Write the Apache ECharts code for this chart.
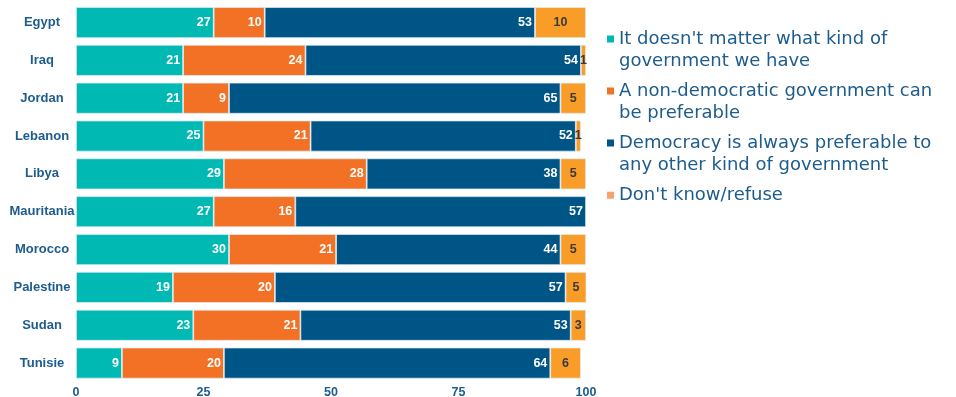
<!DOCTYPE html>
<html>
<head>
<meta charset="utf-8">
<script src="https://cdn.jsdelivr.net/npm/echarts@6/dist/echarts.min.js"></script>
<style>
  html, body { margin: 0; padding: 0; background: #ffffff; }
  #chart { width: 956px; height: 397px; }
</style>
</head>
<body>
<div id="chart"></div>
<script>
// Survey: attitudes toward democracy, by country (percent of respondents)
const countries = ['Egypt', 'Iraq', 'Jordan', 'Lebanon', 'Libya', 'Mauritania', 'Morocco', 'Palestine', 'Sudan', 'Tunisie'];
const noMatter     = [27, 21, 21, 25, 29, 27, 30, 19, 23, 9];
const nonDemocracy = [10, 24, 9, 21, 28, 16, 21, 20, 21, 20];
const democracy    = [53, 54, 65, 52, 38, 57, 44, 57, 53, 64];
const dontKnow     = [10, 1, 5, 1, 5, 0.4, 5, 5, 3, 6];
const dontKnowLabels = ['10', '1', '5', '1', '5', '', '5', '5', '3', '6'];
const seriesNames = [
  "It doesn't matter what kind of\ngovernment we have",
  'A non-democratic government can\nbe preferable',
  'Democracy is always preferable to\nany other kind of government',
  "Don't know/refuse"
];
const xTicks = [0, 25, 50, 75, 100];

const textBlue = '#1d5c8d';
const colors = ['#00b9b3', '#f37124', '#005587', '#f99d28'];
const legendColors = ['#00b9b3', '#f37124', '#005587', '#f7a26e'];

// Legend icons: a small square placed at the top of a tall box for two-line
// entries (so it lines up with the first line), and a plain square otherwise
const topSquare = 'path://M0,0L7,0L7,7L0,7Z M0,30L0.01,30';
const plainSquare = 'path://M0,0L7,0L7,7L0,7Z';

const chart = echarts.init(document.getElementById('chart'), null, { renderer: 'canvas' });

const baseItem = {
  borderColor: 'rgba(225,238,245,0.9)',
  borderWidth: 0.8
};

function mkSeries(i, data, label) {
  return {
    name: seriesNames[i],
    type: 'bar',
    stack: 'total',
    barCategoryGap: '18%',
    data: data,
    clip: true,
    itemStyle: Object.assign({ color: colors[i] }, baseItem),
    label: label,
    emphasis: { disabled: true }
  };
}

const whiteLabel = {
  show: true,
  position: 'insideRight',
  distance: 3,
  color: '#ffffff',
  fontFamily: 'Liberation Sans, Arial, sans-serif',
  fontWeight: 'bold',
  fontSize: 12.5
};

chart.setOption({
  animation: false,
  grid: { left: 76, right: 370, top: 3.6, bottom: 15, outerBoundsMode: 'none', containLabel: false },
  xAxis: {
    type: 'value',
    min: 0,
    max: 100,
    interval: 25,
    axisLine: { show: false },
    axisTick: { show: false },
    splitLine: { show: false },
    axisLabel: {
      margin: 4,
      color: textBlue,
      fontFamily: 'Liberation Sans, Arial, sans-serif',
      fontWeight: 'bold',
      fontSize: 12.5,
      formatter: v => xTicks.includes(v) ? String(v) : ''
    }
  },
  yAxis: {
    type: 'category',
    inverse: true,
    data: countries,
    axisLine: { show: false },
    axisTick: { show: false },
    axisLabel: {
      margin: 34,
      align: 'center',
      color: textBlue,
      fontFamily: 'Liberation Sans, Arial, sans-serif',
      fontWeight: 'bold',
      fontSize: 13
    }
  },
  legend: {
    orient: 'vertical',
    left: 607,
    top: 28,
    padding: 0,
    itemWidth: 7,
    itemHeight: 30,
    itemGap: 7,
    selectedMode: false,
    textStyle: {
      color: textBlue,
      fontFamily: 'DejaVu Sans, sans-serif',
      fontSize: 18,
      lineHeight: 22.5
    },
    data: seriesNames.map((n, i) => ({
      name: n,
      icon: i < 3 ? topSquare : plainSquare,
      itemStyle: { color: legendColors[i], borderWidth: 0 }
    }))
  },
  series: [
    mkSeries(0, noMatter, whiteLabel),
    mkSeries(1, nonDemocracy, whiteLabel),
    mkSeries(2, democracy, whiteLabel),
    mkSeries(3, dontKnow, {
      show: true,
      position: 'inside',
      color: '#3a3a3a',
      fontFamily: 'Liberation Sans, Arial, sans-serif',
      fontWeight: 'bold',
      fontSize: 12.5,
      formatter: p => dontKnowLabels[p.dataIndex]
    })
  ]
});
</script>
</body>
</html>
